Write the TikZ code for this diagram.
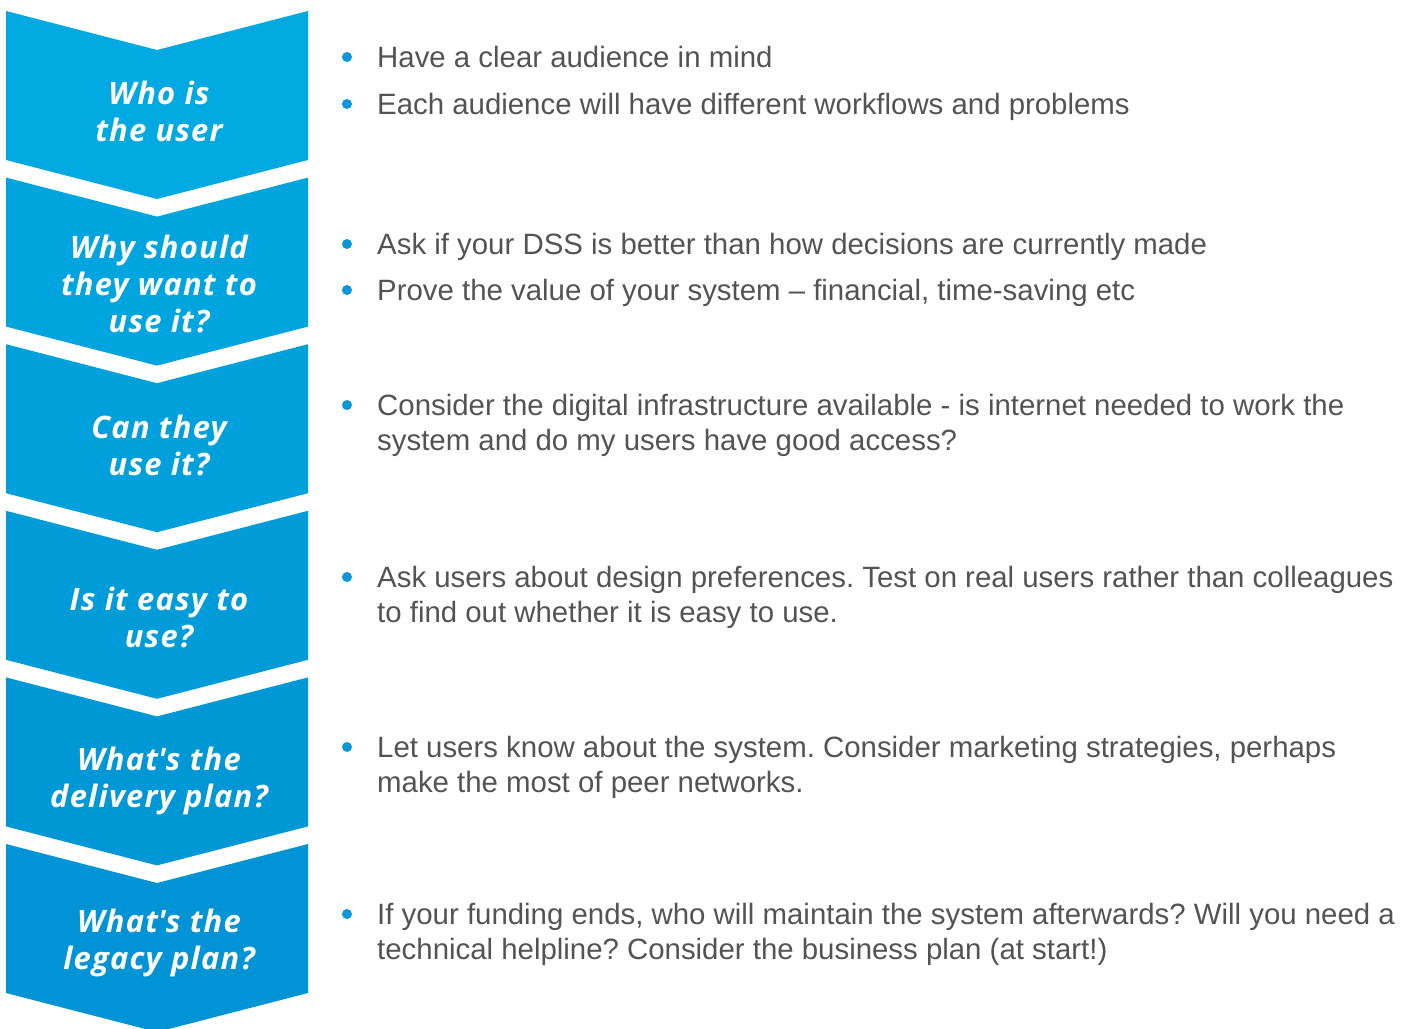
\documentclass[tikz,border=0pt]{standalone}
\usepackage{fontspec}
\setmainfont{Liberation Sans}
\newfontfamily\chevfont[LetterSpace=4]{Open Sans}

\definecolor{chevlight}{HTML}{00A9E1}
\definecolor{chevdark}{HTML}{0093D5}
\definecolor{bodygray}{HTML}{535353}
\definecolor{dotblue}{HTML}{0A96D8}

\tikzset{
	question/.style={text=white, align=center,
		font=\chevfont\bfseries\itshape\fontsize{31}{37.5}\selectfont},
	point/.style={text=bodygray, anchor=base west, align=left, inner sep=0pt,
		font=\frenchspacing\fontsize{29.5}{35}\selectfont},
	bullet/.style={circle, fill=dotblue, inner sep=0pt, minimum size=10bp}
}

\begin{document}
\begin{tikzpicture}[x=1bp, y=-1bp]
	\useasboundingbox (0,0) rectangle (1419,1028);

	% the six chevrons, getting a bit darker going down
	\foreach \i in {0,...,5}{
		\pgfmathsetmacro{\ytop}{11+166.6*\i}
		\pgfmathsetmacro{\mix}{20*\i}
		\fill[chevdark!\mix!chevlight] (6,\ytop) -- (157,{\ytop+39}) -- (308,\ytop)
			-- (308,{\ytop+149}) -- (157,{\ytop+188}) -- (6,{\ytop+149}) -- cycle;
	}

	\node[question] (q1) at (159,111.5) {Who is\\the user};
	\node[question] (q2) at (159,284) {Why should\\they want to\\use it?};
	\node[question] (q3) at (159,445.5) {Can they\\use it?};
	\node[question] (q4) at (159,617.5) {Is it easy to\\use?};
	\node[question] (q5) at (159,781) {What\textquotesingle s the\\delivery plan?};
	\node[question] (q6) at (159,943) {What\textquotesingle s the\\legacy plan?};

	% bullet points (base is the last line)
	\node[point] (p1) at (377,67) {Have a clear audience in mind};
	\node[point] (p2) at (377,114) {Each audience will have different workflows and problems};
	\node[point] (p3) at (377,254) {Ask if your DSS is better than how decisions are currently made};
	\node[point] (p4) at (377,300) {Prove the value of your system -- financial, time-saving etc};
	\node[point] (p5) at (377,450) {Consider the digital infrastructure available - is internet needed to work the\\system and do my users have good access?};
	\node[point] (p6) at (377,622) {Ask users about design preferences. Test on real users rather than colleagues\\to find out whether it is easy to use.};
	\node[point] (p7) at (377,792) {Let users know about the system. Consider marketing strategies, perhaps\\make the most of peer networks.};
	\node[point] (p8) at (377,959) {If your funding ends, who will maintain the system afterwards? Will you need a\\technical helpline? Consider the business plan (at start!)};

	\foreach \p/\y in {1/57, 2/104, 3/244, 4/290, 5/405, 6/577, 7/747, 8/914}
		\node[bullet] (b\p) at (347,\y) {};
\end{tikzpicture}
\end{document}
